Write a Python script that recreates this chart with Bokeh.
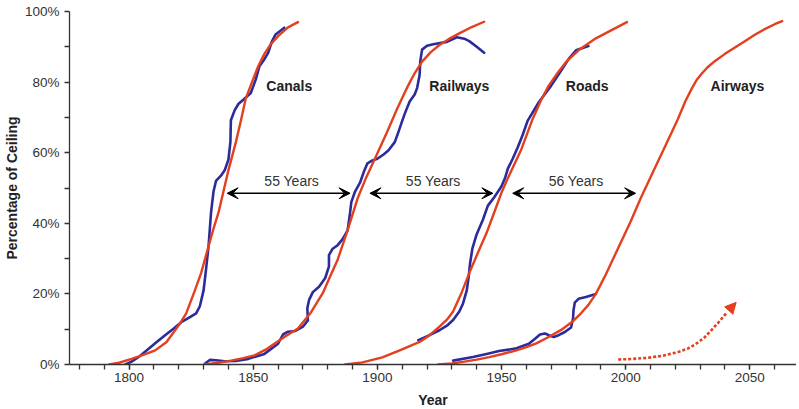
from bokeh.plotting import figure
from bokeh.models import Range1d, FixedTicker, Arrow, VeeHead, NormalHead, Label
from bokeh.embed import file_html
from bokeh.resources import INLINE

FONT = "Liberation Sans"
RED = "#E2401F"
BLUE = "#2B2B9C"
TXT = "#333333"

# ---- fitted (red) curves ----
canals_fit_year = [1792, 1796, 1801, 1806, 1810.5, 1815, 1820, 1823, 1826.5, 1829, 1832, 1834, 1836, 1838, 1840, 1843, 1845, 1847, 1849.5, 1852, 1854.5, 1857, 1860, 1864, 1868]
canals_fit_pct = [0, 0.5, 1.6, 2.8, 4, 6.3, 11.1, 14.5, 21, 25.9, 33.5, 38.5, 43, 49, 55, 63, 69, 75.4, 80, 84.5, 88, 90.7, 93, 95.5, 97]

railways_fit_year = [1830.5, 1836, 1841, 1846, 1850.5, 1855, 1858.5, 1863, 1868, 1873, 1878, 1881, 1884, 1888, 1892, 1895.5, 1899, 1904, 1908, 1912, 1915, 1918, 1921.5, 1925, 1929, 1933, 1938, 1943]
railways_fit_pct = [0, 0.5, 1.1, 1.8, 2.6, 4.2, 5.9, 8, 10.2, 14.5, 20.2, 25, 29.7, 38, 47, 53, 58.3, 66, 72.5, 78.5, 82.5, 85.8, 88.5, 90.5, 92.3, 93.8, 95.6, 97.1]

roads_fit_year = [1887, 1894, 1902, 1909, 1913, 1917, 1921, 1925, 1928, 1930.5, 1934, 1937, 1941, 1944, 1947, 1950, 1953, 1958, 1962.5, 1966, 1969, 1972.5, 1976, 1981, 1988, 1994.5, 2000.5]
roads_fit_pct = [0, 0.6, 2, 4, 5.2, 6.4, 8.3, 10.7, 12.7, 15, 20.5, 25.9, 32.5, 37.3, 43, 48.7, 53.5, 61, 69.5, 75, 79, 82.5, 85.7, 89, 92.4, 94.8, 97]

airways_fit_year = [1924.5, 1930, 1935, 1940, 1945, 1950, 1955, 1960, 1964, 1969, 1974, 1978.5, 1982, 1985, 1988, 1992, 1997, 2002, 2006, 2011, 2016, 2021, 2024, 2026.5, 2028.5, 2030.5, 2033, 2036, 2040, 2044, 2048, 2052, 2056, 2060, 2063]
airways_fit_pct = [0, 0.3, 0.8, 1.4, 2.1, 2.9, 3.8, 4.9, 6.0, 7.8, 9.8, 12.1, 14.5, 16.9, 20, 25.5, 33, 40.5, 47, 54.5, 62, 69.5, 74.5, 78, 80.5, 82.3, 84.2, 86, 88, 89.8, 91.6, 93.4, 95, 96.4, 97.3]

# ---- observed (blue) curves ----
canals_obs_year = [1798.5, 1801, 1804, 1808, 1811, 1814.5, 1818, 1821, 1824, 1827, 1828.5, 1830, 1831, 1832, 1833, 1834, 1835, 1837, 1838.5, 1840, 1840.8, 1841, 1842.5, 1844, 1846, 1849, 1851, 1852.5, 1854.5, 1856, 1857.5, 1859, 1862.5]
canals_obs_pct = [0, 0.8, 2.2, 4.5, 6.3, 8.3, 10.2, 12, 13.2, 14.5, 16.5, 21, 27, 33.5, 43, 49, 52, 53.5, 55, 58, 63, 69.2, 72, 73.8, 75, 76.9, 80.7, 84.5, 86.5, 88.3, 91.5, 93.5, 95.4]

railways_obs_year = [1830.5, 1832.5, 1835, 1838.5, 1843, 1848, 1854.5, 1860, 1862, 1864, 1867, 1870, 1872, 1871.8, 1872.5, 1874, 1876.5, 1879, 1880.5, 1880.5, 1882, 1884, 1886, 1888, 1889, 1889.5, 1891, 1893, 1894.5, 1896, 1898, 1900, 1902.5, 1904.5, 1907, 1908.5, 1910, 1911, 1913, 1915, 1916, 1917, 1917.3, 1918, 1920, 1922.5, 1928, 1932, 1935, 1937, 1940, 1943]
railways_obs_pct = [0.2, 1.3, 1.2, 0.9, 1.0, 1.6, 3, 5.9, 8.5, 9.3, 9.5, 10.7, 12.5, 16, 18.3, 20.5, 22, 24.5, 27.8, 31, 32.8, 33.8, 35.5, 38, 43, 46, 49, 51.5, 54.5, 57, 57.8, 58.3, 59.5, 60.7, 63, 65.9, 69, 71, 74.5, 76.5, 78.3, 82, 86, 89.2, 90.3, 90.7, 91.4, 92.7, 92.3, 91.6, 90, 88.3]

roads_obs_year = [1916.5, 1921, 1925, 1928, 1930.5, 1933, 1934.5, 1936, 1936.8, 1937.3, 1938.3, 1940, 1942.5, 1944.5, 1947, 1950, 1951.5, 1952.5, 1954.5, 1956.5, 1958.5, 1960.5, 1965, 1970, 1974.5, 1977, 1980, 1985]
roads_obs_pct = [6.9, 8.3, 9.7, 11, 12.6, 15, 17.3, 21, 25, 28.5, 33, 36.9, 41, 45, 47.3, 50.5, 53, 55.4, 58.3, 61.5, 65, 69, 74.3, 79, 83.8, 86.5, 89, 90.2]

airways_obs_year = [1930.5, 1938.5, 1944, 1949, 1955.5, 1961, 1963.5, 1965.5, 1967.5, 1969, 1971, 1973, 1975.5, 1978, 1978.8, 1979, 1979.5, 1981, 1984, 1988]
airways_obs_pct = [1.1, 2.1, 3.0, 3.8, 4.5, 5.9, 7.3, 8.5, 8.8, 8.3, 7.8, 8.3, 9.2, 10.5, 13, 15.4, 17.5, 18.6, 19.1, 20]

# ---- dotted projection arrow ----
proj_year = [1997, 2003, 2009, 2015, 2021, 2025, 2028, 2031.5, 2034.5, 2037.5, 2040.5]
proj_pct = [1.4, 1.6, 1.9, 2.5, 3.5, 4.5, 5.7, 7.5, 9.7, 12, 14.5]
proj_tip = (2044.5, 17.6)

# ---- interval arrows ----
interval_labels = ["55 Years", "55 Years", "56 Years"]
interval_start = [1839.5, 1897, 1954.5]
interval_end = [1889, 1946.5, 2004]
interval_level = 48.5
interval_label_x = [1865.5, 1922.5, 1980]
interval_label_y = 52.1

series_names = ["Canals", "Railways", "Roads", "Airways"]
series_label_x = [1864.5, 1933, 1984.5, 2045]
series_label_y = 79

x_major = [1800, 1850, 1900, 1950, 2000, 2050]
x_minor = list(range(1780, 2061, 10))
y_major = [0, 20, 40, 60, 80, 100]
y_minor = [10, 30, 50, 70, 90]

p = figure(width=796, height=410, output_backend="svg", toolbar_location=None,
           x_range=Range1d(1776, 2068.8), y_range=Range1d(0, 100),
           min_border_left=64, min_border_right=0, min_border_top=11, min_border_bottom=0)
p.outline_line_color = None
p.grid.visible = False
p.background_fill_color = "white"

for ax in (p.xaxis[0], p.yaxis[0]):
    ax.axis_line_color = TXT
    ax.axis_line_width = 1.3
    ax.major_tick_line_color = TXT
    ax.minor_tick_line_color = TXT
    ax.major_tick_line_width = 1.3
    ax.minor_tick_line_width = 1.3
    ax.major_tick_in = 0
    ax.major_tick_out = 5
    ax.minor_tick_in = 0
    ax.minor_tick_out = 5
    ax.major_label_text_font = FONT
    ax.major_label_text_font_size = "13.5px"
    ax.major_label_text_color = TXT
    ax.axis_label_text_font = FONT
    ax.axis_label_text_font_size = "14px"
    ax.axis_label_text_font_style = "bold"
    ax.axis_label_text_color = "#222222"

p.xaxis.ticker = FixedTicker(ticks=x_major, minor_ticks=x_minor)
p.yaxis.ticker = FixedTicker(ticks=y_major, minor_ticks=y_minor)
p.yaxis.major_label_overrides = {v: f"{v}%" for v in y_major}
p.xaxis.axis_label = "Year"
p.yaxis.axis_label = "Percentage of Ceiling"
p.yaxis.major_label_standoff = 5
p.yaxis.axis_label_standoff = 2
p.xaxis.major_label_standoff = 3
p.xaxis.axis_label_standoff = 7

for xs, ys in [(canals_obs_year, canals_obs_pct), (railways_obs_year, railways_obs_pct),
               (roads_obs_year, roads_obs_pct), (airways_obs_year, airways_obs_pct)]:
    p.line(xs, ys, line_color=BLUE, line_width=2.6, line_join="round", line_cap="round")

for xs, ys in [(canals_fit_year, canals_fit_pct), (railways_fit_year, railways_fit_pct),
               (roads_fit_year, roads_fit_pct), (airways_fit_year, airways_fit_pct)]:
    p.line(xs, ys, line_color=RED, line_width=2.4, line_join="round", line_cap="round")

p.line(proj_year, proj_pct, line_color=RED, line_width=2.6, line_dash="3 2")
p.add_layout(Arrow(x_start=proj_year[-1], y_start=proj_pct[-1], x_end=proj_tip[0], y_end=proj_tip[1],
                   line_alpha=0,
                   end=NormalHead(size=11, fill_color=RED, line_color=RED)))

for xs, xe in zip(interval_start, interval_end):
    p.add_layout(Arrow(x_start=xs, y_start=interval_level, x_end=xe, y_end=interval_level,
                       line_color="black", line_width=1.4,
                       start=VeeHead(size=11, fill_color="black", line_color="black", line_width=1),
                       end=VeeHead(size=11, fill_color="black", line_color="black", line_width=1)))

for t, x in zip(interval_labels, interval_label_x):
    p.add_layout(Label(x=x, y=interval_label_y, text=t, text_font=FONT, text_font_size="14px",
                       text_color=TXT, text_align="center", text_baseline="middle"))

for t, x in zip(series_names, series_label_x):
    p.add_layout(Label(x=x, y=series_label_y, text=t, text_font=FONT, text_font_size="14px",
                       text_font_style="bold", text_color="#222222",
                       text_align="center", text_baseline="middle"))

open("out.html", "w").write(file_html(p, INLINE))
